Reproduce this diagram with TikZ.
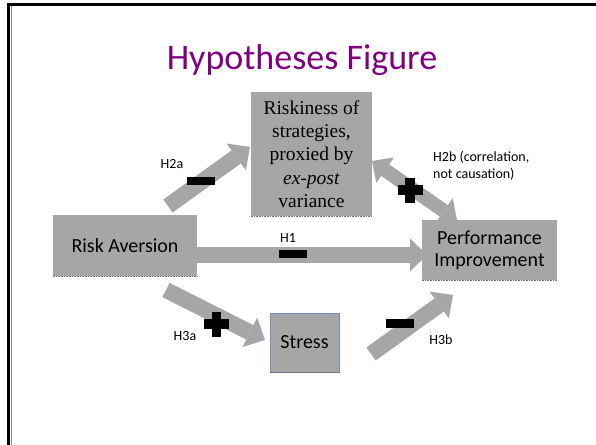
\documentclass[tikz,border=0pt]{standalone}
\usepackage{fontspec}
\setmainfont{Carlito}
\newfontfamily\timesf{Liberation Serif}
\usetikzlibrary{arrows.meta}
\definecolor{boxgray}{HTML}{A6A6A6}
\definecolor{titlepurple}{HTML}{800080}
\definecolor{stressblue}{HTML}{6F8FC4}
\tikzset{
  box/.style={rectangle, fill=boxgray, inner sep=0pt, align=center, font=\fontsize{20}{22}\selectfont},
  blockarrow/.style={draw=boxgray, line width=16pt, -{Triangle[width=33pt,length=17pt,line width=0pt]}},
  dblarrow/.style={draw=boxgray, line width=14pt, {Triangle[width=31pt,length=16pt,line width=0pt]}-{Triangle[width=31pt,length=16pt,line width=0pt]}},
  hlabel/.style={inner sep=0pt, font=\fontsize{14}{17}\selectfont},
  minussign/.style={rectangle, fill=black, inner sep=0pt, minimum width=28pt, minimum height=8.5pt},
  plussign/.pic={\fill[black] (-12.5,-4.75) rectangle (12.5,4.75); \fill[black] (-4.75,-12.5) rectangle (4.75,12.5);},
  shadowline/.style={densely dotted, draw=black!55, line width=0.6pt}
}
\begin{document}
\begin{tikzpicture}[x=1pt, y=-1pt]
\useasboundingbox (0,0) rectangle (596,444);
\clip (0,0) rectangle (596,444);
\fill[white] (0,0) rectangle (596,444);
% frame
\draw[black!45, line width=1pt] (11,460) -- (11,6);
\draw[line width=3pt] (8.5,460) -- (8.5,4.5) -- (620,4.5);
% title
\node[anchor=base, inner sep=0pt, text=titlepurple, font=\fontsize{36}{42}\selectfont] (title) at (302,70) {Hypotheses Figure};
% connector end points
\coordinate (h2as) at (168,206);
\coordinate (h2ae) at (250,147);
\coordinate (h1s) at (197,255);
\coordinate (h1e) at (427,255);
\coordinate (h2bs) at (372,161);
\coordinate (h2be) at (457,220);
\coordinate (h3as) at (166,290);
\coordinate (h3ae) at (265,340);
\coordinate (h3bs) at (371,354);
\coordinate (h3be) at (453,295);
% boxes
\node[box, minimum width=144pt, minimum height=61pt] (ra) at (125,245.5) {Risk Aversion};
\node[box, minimum width=121pt, minimum height=124pt, font=\timesf\fontsize{19.5}{23.3}\selectfont] (risk) at (311.5,154) {Riskiness of\\strategies,\\proxied by\\\textit{ex-post}\\variance};
\node[box, minimum width=135pt, minimum height=60pt] (perf) at (489.5,250) {Performance\\Improvement};
\node[box, draw=stressblue, line width=0.8pt, minimum width=69pt, minimum height=59pt] (stress) at (304.5,342.5) {Stress};
\draw[shadowline] (ra.south west) -- (ra.south east);
\draw[shadowline] (risk.south west) -- (risk.south east);
\draw[shadowline] (perf.south west) -- (perf.south east);
\draw[shadowline] (stress.south west) -- (stress.south east);
% connectors
\draw[blockarrow] (h2as) -- (h2ae);
\draw[blockarrow] (h1s) -- (h1e);
\draw[dblarrow] (h2bs) -- (h2be);
\draw[blockarrow] (h3as) -- (h3ae);
\draw[blockarrow] (h3bs) -- (h3be);
% signs
\node[minussign] (m2a) at (200.5,181) {};
\node[minussign] (m1) at (293,254) {};
\node[minussign] (m3b) at (399.5,323.5) {};
\pic at (410,190) {plussign};
\pic at (216.5,324) {plussign};
% labels
\node[hlabel] (l2a) at (172,164) {H2a};
\node[hlabel] (l1) at (288,238) {H1};
\node[hlabel, anchor=west, align=left] (l2b) at (433,165.5) {H2b (correlation,\\not causation)};
\node[hlabel] (l3a) at (185,336) {H3a};
\node[hlabel] (l3b) at (441,340) {H3b};
\end{tikzpicture}
\end{document}
